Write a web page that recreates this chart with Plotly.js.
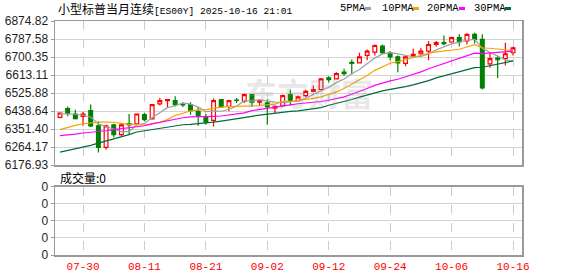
<!DOCTYPE html>
<html>
<head>
<meta charset="utf-8">
<script src="https://cdn.plot.ly/plotly-3.0.1.min.js"></script>
<style>html,body{margin:0;padding:0;background:#fff;}#chart{width:578px;height:276px;}</style>
</head>
<body>
<div id="chart"></div>
<script>
// ---- data ----
const dates = ["07-25","07-28","07-29","07-30","07-31","08-01","08-04","08-05","08-06","08-07",
  "08-08","08-11","08-12","08-13","08-14","08-15","08-18","08-19","08-20","08-21",
  "08-22","08-25","08-26","08-27","08-28","08-29","09-01","09-02","09-03","09-04",
  "09-05","09-08","09-09","09-10","09-11","09-12","09-15","09-16","09-17","09-18",
  "09-19","09-22","09-23","09-24","09-25","09-26","09-29","09-30","10-01","10-02",
  "10-03","10-06","10-07","10-08","10-09","10-10","10-13","10-14","10-15","10-16"];
const open  = [6408,6450,6424,6413,6440,6367,6262,6371,6324,6377,
  6376,6421,6400,6473,6489,6489,6470,6470,6437,6410,
  6393,6494,6461,6492,6486,6518,6481,6478,6453,6465,
  6518,6489,6513,6534,6542,6599,6594,6627,6675,6672,
  6708,6724,6753,6721,6701,6669,6705,6716,6729,6761,
  6770,6773,6794,6778,6810,6786,6667,6695,6692,6721];
const high  = [6433,6461,6445,6435,6470,6388,6372,6377,6380,6424,
  6426,6429,6472,6502,6497,6510,6481,6481,6458,6424,
  6499,6496,6490,6502,6523,6519,6494,6494,6465,6518,
  6542,6513,6542,6562,6599,6607,6627,6643,6688,6721,
  6737,6761,6761,6729,6708,6705,6740,6745,6778,6778,
  6805,6799,6810,6815,6818,6810,6721,6708,6770,6750];
const low   = [6403,6413,6397,6367,6361,6238,6251,6312,6315,6324,
  6371,6388,6397,6465,6453,6461,6458,6421,6367,6372,
  6364,6456,6437,6478,6478,6458,6465,6372,6429,6461,
  6465,6486,6507,6530,6539,6578,6591,6610,6615,6669,
  6685,6708,6713,6685,6627,6656,6697,6708,6685,6750,
  6757,6770,6753,6761,6766,6543,6648,6599,6659,6708];
const close = [6429,6427,6401,6424,6367,6262,6367,6324,6371,6371,
  6424,6397,6470,6489,6494,6470,6468,6440,6416,6384,
  6489,6458,6489,6490,6518,6481,6489,6458,6461,6513,
  6491,6507,6534,6542,6594,6591,6620,6620,6669,6701,
  6729,6756,6721,6701,6672,6701,6713,6729,6761,6770,
  6765,6794,6773,6810,6786,6551,6692,6688,6716,6745];
const volume = dates.map(() => 0);
// moving-average values at the left edge (window reaches before the first candle)
const ma5Head  = [6426,6426,6423,6418];
const ma10Head = [6348,6359,6369,6377,6382,6385,6385,6384,6379];
const ma20Head = [6319,6322,6327,6332,6335,6340,6343,6348,6353,6358,6363,6367,6376,6384,6392,6400,6406,6410,6410];
const ma30Head = [6239,6247,6256,6264,6272,6283,6293,6303,6312,6324,6337,6343,6348,6353,6359,6366,6372,6374,6377,6380,6385,6390,6395,6402,6406,6413,6419,6424,6427];
const tickDates = ["07-30","08-11","08-21","09-02","09-12","09-24","10-06","10-16"];
const yTicks = ["6176.93","6264.17","6351.40","6438.64","6525.88","6613.11","6700.35","6787.58","6874.82"];
const maNames = ["5PMA","10PMA","20PMA","30PMA"];
const titleCn = "小型标普当月连续";
const titleCode = "[ES00Y] 2025-10-16 21:01";
const volLabel = "成交量:0";

function movingAvg(n, head) {
  return close.map((c, i) => {
    if (i < head.length) return head[i];
    let s = 0;
    for (let k = i - n + 1; k <= i; k++) s += close[k];
    return s / n;
  });
}
const maColors = ["#a0a0a0", "#f5a300", "#ff00ff", "#006b3b"];
const maSeries = [movingAvg(5, ma5Head), movingAvg(10, ma10Head), movingAvg(20, ma20Head), movingAvg(30, ma30Head)];

// ---- geometry helpers (pixel -> paper) ----
const L = 55, R = 522, T = 21, B = 255;
const px = p => (p - L) / (R - L);
const py = p => (B - p) / (B - T);

const traces = [];
traces.push({
  type: "candlestick", x: dates, open: open, high: high, low: low, close: close,
  xaxis: "x", yaxis: "y", whiskerwidth: 0,
  increasing: {line: {color: "#ff0000", width: 1.2}, fillcolor: "#ffffff"},
  decreasing: {line: {color: "#008000", width: 1.2}, fillcolor: "#008000"},
  hoverinfo: "skip"
});
maSeries.forEach((s, k) => traces.push({
  type: "scatter", mode: "lines", x: dates, y: s, xaxis: "x", yaxis: "y",
  line: {color: maColors[k], width: 1.2}, hoverinfo: "skip"
}));
traces.push({type: "bar", x: dates, y: volume, xaxis: "x2", yaxis: "y2", marker: {color: "#008000"}, hoverinfo: "skip"});

const axisLine = "#9a9a9a";
const xRange = [-0.65, 60.17];
const tickFont = {family: "Liberation Sans, Arial, sans-serif", size: 12, color: "#1e1e1e"};

const annotations = [
  {xref: "paper", yref: "paper", x: px(56), y: py(8.5), xanchor: "left", yanchor: "middle", showarrow: false,
   text: "<span style='font-family:Noto Sans CJK SC'>" + titleCn + "</span><span style='font-family:Liberation Mono;font-size:9.6px'>" + titleCode + "</span>",
   font: {family: "Noto Sans CJK SC", size: 12, color: "#000"}},
  {xref: "paper", yref: "paper", x: px(58), y: py(177), xanchor: "left", yanchor: "middle", showarrow: false,
   text: volLabel, font: {family: "Noto Sans CJK SC", size: 12, color: "#000"}},
  {xref: "paper", yref: "paper", x: px(309), y: py(92), xanchor: "center", yanchor: "middle", showarrow: false,
   text: "<b>东方财富</b>", font: {family: "Noto Sans CJK SC", size: 32, color: "rgba(150,150,150,0.22)"}}
];
const legendX = [338, 380, 425, 472];
const swatchX = [365, 413, 459, 505];
const shapes = [];
maNames.forEach((n, k) => {
  annotations.push({xref: "paper", yref: "paper", x: px(legendX[k]), y: py(8.5), xanchor: "left", yanchor: "middle",
    showarrow: false, text: n, font: {family: "Liberation Mono, monospace", size: 10.5, color: "#000"}});
  shapes.push({type: "rect", xref: "paper", yref: "paper", x0: px(swatchX[k]), x1: px(swatchX[k] + 6),
    y0: py(10), y1: py(7), line: {width: 0}, fillcolor: maColors[k]});
});

const layout = {
  width: 578, height: 276,
  margin: {l: L, r: 578 - R, t: T, b: 276 - B, pad: 0},
  paper_bgcolor: "#fff", plot_bgcolor: "#fff",
  showlegend: false, hovermode: false, dragmode: false,
  xaxis: {domain: [0, 1], anchor: "y", type: "category", range: xRange, tickvals: tickDates,
    showticklabels: false, ticks: "", showgrid: true, gridcolor: "#cccccc", griddash: "dash", gridwidth: 1,
    showline: true, mirror: true, linecolor: axisLine, linewidth: 1.5, zeroline: false,
    rangeslider: {visible: false}, fixedrange: true},
  yaxis: {domain: [py(165), 1], anchor: "x", range: [6176.93, 6874.82], tickvals: yTicks.map(Number), ticktext: yTicks,
    ticks: "outside", ticklen: 3, tickcolor: axisLine, tickfont: tickFont,
    showgrid: true, gridcolor: "#d4d4d4", gridwidth: 1, showline: true, mirror: true, linecolor: axisLine, linewidth: 1.5,
    zeroline: false, fixedrange: true},
  xaxis2: {domain: [0, 1], anchor: "y2", type: "category", range: xRange, tickvals: tickDates, ticktext: tickDates,
    showticklabels: true, ticks: "", tickfont: {family: "Liberation Mono, monospace", size: 11, color: "#ff0000"},
    showgrid: true, gridcolor: "#cccccc", griddash: "dash", gridwidth: 1,
    showline: true, mirror: true, linecolor: axisLine, linewidth: 1.5, zeroline: false, fixedrange: true},
  yaxis2: {domain: [0, py(186.5)], anchor: "x2", range: [0, 4], tickvals: [0, 1, 2, 3, 4], ticktext: ["0","0","0","0","0"],
    ticks: "outside", ticklen: 3, tickcolor: axisLine, tickfont: tickFont,
    showgrid: true, gridcolor: "#d4d4d4", gridwidth: 1, showline: true, mirror: true, linecolor: axisLine, linewidth: 1.5,
    zeroline: false, fixedrange: true},
  annotations: annotations,
  shapes: shapes
};

Plotly.newPlot("chart", traces, layout, {staticPlot: true, displayModeBar: false});
</script>
</body>
</html>
